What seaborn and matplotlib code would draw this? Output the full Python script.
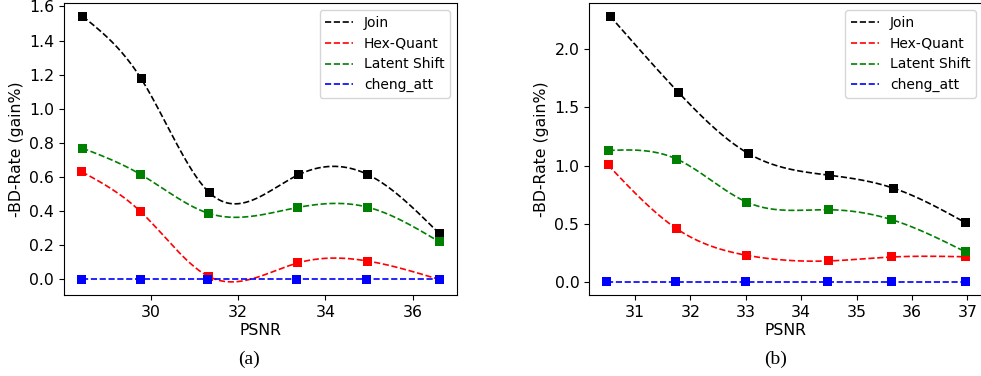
import numpy as np
import pandas as pd
import matplotlib
matplotlib.use("Agg")
import matplotlib.pyplot as plt
import seaborn as sns

methods = ["Join", "Hex-Quant", "Latent Shift", "cheng_att"]
colors = {"Join": "black", "Hex-Quant": "red", "Latent Shift": "green", "cheng_att": "blue"}

# Panel (a)
psnr_a = {
    "Join":         [28.44, 29.78, 31.34, 33.38, 34.97, 36.61],
    "Hex-Quant":    [28.42, 29.76, 31.33, 33.37, 34.97, 36.61],
    "Latent Shift": [28.43, 29.77, 31.33, 33.37, 34.96, 36.61],
    "cheng_att":    [28.42, 29.76, 31.31, 33.35, 34.94, 36.61],
}
rate_a = {
    "Join":         [1.542, 1.176, 0.509, 0.613, 0.615, 0.269],
    "Hex-Quant":    [0.631, 0.399, 0.017, 0.097, 0.108, 0.0],
    "Latent Shift": [0.770, 0.615, 0.387, 0.422, 0.424, 0.221],
    "cheng_att":    [0.0, 0.0, 0.0, 0.0, 0.0, 0.0],
}

# Panel (b)
psnr_b = {
    "Join":         [30.55, 31.78, 33.04, 34.52, 35.67, 36.96],
    "Hex-Quant":    [30.51, 31.74, 33.01, 34.50, 35.64, 36.96],
    "Latent Shift": [30.52, 31.75, 33.02, 34.50, 35.64, 36.96],
    "cheng_att":    [30.49, 31.73, 33.00, 34.48, 35.63, 36.96],
}
rate_b = {
    "Join":         [2.283, 1.630, 1.105, 0.916, 0.805, 0.511],
    "Hex-Quant":    [1.005, 0.460, 0.229, 0.180, 0.214, 0.216],
    "Latent Shift": [1.130, 1.056, 0.685, 0.620, 0.534, 0.260],
    "cheng_att":    [0.0, 0.0, 0.0, 0.0, 0.0, 0.0],
}


def natural_spline(x, y, xs):
    x = np.asarray(x, float)
    y = np.asarray(y, float)
    n = len(x)
    h = np.diff(x)
    A = np.zeros((n, n))
    rhs = np.zeros(n)
    A[0, 0] = 1
    A[-1, -1] = 1
    for i in range(1, n - 1):
        A[i, i - 1] = h[i - 1]
        A[i, i] = 2 * (h[i - 1] + h[i])
        A[i, i + 1] = h[i]
        rhs[i] = 6 * ((y[i + 1] - y[i]) / h[i] - (y[i] - y[i - 1]) / h[i - 1])
    M = np.linalg.solve(A, rhs)
    idx = np.clip(np.searchsorted(x, xs, side="right") - 1, 0, n - 2)
    x0, x1 = x[idx], x[idx + 1]
    hh = x1 - x0
    a = (x1 - xs) / hh
    b = (xs - x0) / hh
    return (a * y[idx] + b * y[idx + 1]
            + ((a ** 3 - a) * M[idx] + (b ** 3 - b) * M[idx + 1]) * hh ** 2 / 6)


FS = 11.3


def draw(ax, psnr, rate):
    curves = []
    points = []
    for mth in methods:
        xs = np.linspace(min(psnr[mth]), max(psnr[mth]), 300)
        ys = natural_spline(psnr[mth], rate[mth], xs)
        curves.append(pd.DataFrame({"PSNR": xs, "rate": ys, "method": mth}))
        points.append(pd.DataFrame({"PSNR": psnr[mth], "rate": rate[mth], "method": mth}))
    cdf = pd.concat(curves, ignore_index=True)
    pdf = pd.concat(points, ignore_index=True)
    sns.lineplot(data=cdf, x="PSNR", y="rate", hue="method", hue_order=methods,
                 palette=colors, ax=ax, linewidth=1.2, sort=False, estimator=None,
                 legend=False)
    for ln in ax.get_lines():
        ln.set_linestyle("--")
    sns.scatterplot(data=pdf, x="PSNR", y="rate", hue="method", hue_order=methods,
                    palette=colors, marker="s", s=42, edgecolor="none", ax=ax,
                    legend=False, zorder=3)
    handles = [plt.Line2D([], [], color=colors[m], linestyle="--", linewidth=1.2) for m in methods]
    ax.legend(handles, methods, loc="upper right", fontsize=10)
    ax.set_xlabel("PSNR", fontsize=FS, labelpad=2)
    ax.set_ylabel("-BD-Rate (gain%)", fontsize=FS)
    ax.tick_params(labelsize=FS)


fig = plt.figure(figsize=(9.81, 3.76), dpi=100)
ax1 = fig.add_axes([0.0652, 0.215, 0.4008, 0.777])
ax2 = fig.add_axes([0.6004, 0.215, 0.4016, 0.777])
draw(ax1, psnr_a, rate_a)
draw(ax2, psnr_b, rate_b)
ax1.set_yticks(np.arange(0, 1.61, 0.2))
ax2.set_yticks(np.arange(0, 2.01, 0.5))
ax2.set_xticks(np.arange(31, 38, 1))

fig.text(0.254, 0.043, "(a)", ha="center", va="center", fontsize=14, family="Liberation Serif")
fig.text(0.791, 0.043, "(b)", ha="center", va="center", fontsize=14, family="Liberation Serif")

fig.savefig("out.png", dpi=100)
